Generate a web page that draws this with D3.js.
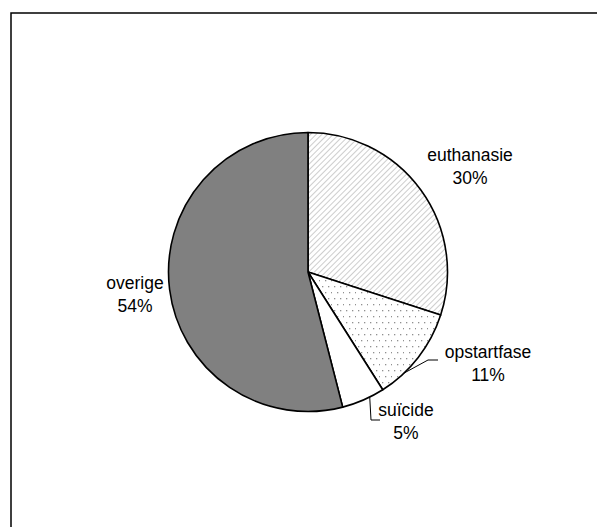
<!DOCTYPE html>
<html>
<head>
<meta charset="utf-8">
<script src="https://cdn.jsdelivr.net/npm/d3@7.9.0/dist/d3.min.js"></script>
<style>
  body { margin: 0; background: #fff; }
  text { font-family: "Liberation Sans", Arial, sans-serif; font-size: 17.5px; fill: #000; }
</style>
</head>
<body>
<svg id="chart" width="597" height="527"></svg>
<script>
// data
const labels = ["euthanasie", "opstartfase", "suïcide", "overige"];
const values = [30, 11, 5, 54];
const fills = ["url(#hatch)", "url(#dots)", "#ffffff", "#808080"];

const svg = d3.select("#chart");

// patterns
const defs = svg.append("defs");
const hatch = defs.append("pattern")
  .attr("id", "hatch")
  .attr("patternUnits", "userSpaceOnUse")
  .attr("width", 4).attr("height", 4)
  .attr("patternTransform", "rotate(45)");
hatch.append("rect").attr("width", 4).attr("height", 4).attr("fill", "#fff");
hatch.append("line").attr("x1", 0).attr("y1", 0).attr("x2", 0).attr("y2", 4)
  .attr("stroke", "#b8b8b8").attr("stroke-width", 1.4);

const dots = defs.append("pattern")
  .attr("id", "dots")
  .attr("patternUnits", "userSpaceOnUse")
  .attr("width", 12).attr("height", 12);
dots.append("rect").attr("width", 12).attr("height", 12).attr("fill", "#fff");
[[2, 2], [8, 2], [5, 8], [11, 8]].forEach(([x, y]) =>
  dots.append("rect").attr("x", x).attr("y", y).attr("width", 1.3).attr("height", 1.3).attr("fill", "#909090"));

// frame (cut off at right/bottom)
svg.append("rect")
  .attr("x", 11).attr("y", 13).attr("width", 600).attr("height", 530)
  .attr("fill", "none").attr("stroke", "#000").attr("stroke-width", 1.5);

const cx = 308, cy = 272, r = 139.5;
const g = svg.append("g").attr("transform", `translate(${cx},${cy})`);

const pie = d3.pie().sort(null).value(d => d)(values);
const arc = d3.arc().innerRadius(0).outerRadius(r);

g.selectAll("path.slice")
  .data(pie)
  .join("path")
  .attr("class", "slice")
  .attr("d", arc)
  .attr("fill", (d, i) => fills[i])
  .attr("stroke", "#000")
  .attr("stroke-width", 1.6)
  .attr("stroke-linejoin", "round");

// labels: position chosen per slice
const labelPos = [
  { x: 470, y: 161 },
  { x: 488, y: 358 },
  { x: 406, y: 416 },
  { x: 135, y: 289 }
];
labels.forEach((lab, i) => {
  const t = svg.append("text")
    .attr("text-anchor", "middle")
    .attr("x", labelPos[i].x).attr("y", labelPos[i].y);
  t.append("tspan").attr("x", labelPos[i].x).text(lab);
  t.append("tspan").attr("x", labelPos[i].x).attr("dy", 23).text(Math.round(values[i]) + "%");
});

// leader lines for small slices
function leader(i, pts) {
  svg.append("polyline")
    .attr("points", pts.map(p => p.join(",")).join(" "))
    .attr("fill", "none").attr("stroke", "#000").attr("stroke-width", 1);
}
const a1 = (pie[1].startAngle + pie[1].endAngle) / 2 + 0.15;
const p1 = [cx + r * Math.sin(a1), cy - r * Math.cos(a1)];
leader(1, [p1, [428, 360], [438, 360]]);
const a2 = (pie[2].startAngle + pie[2].endAngle) / 2 - 0.05;
const p2 = [cx + r * Math.sin(a2), cy - r * Math.cos(a2)];
leader(2, [p2, [371, 420], [380, 420]]);
</script>
</body>
</html>
